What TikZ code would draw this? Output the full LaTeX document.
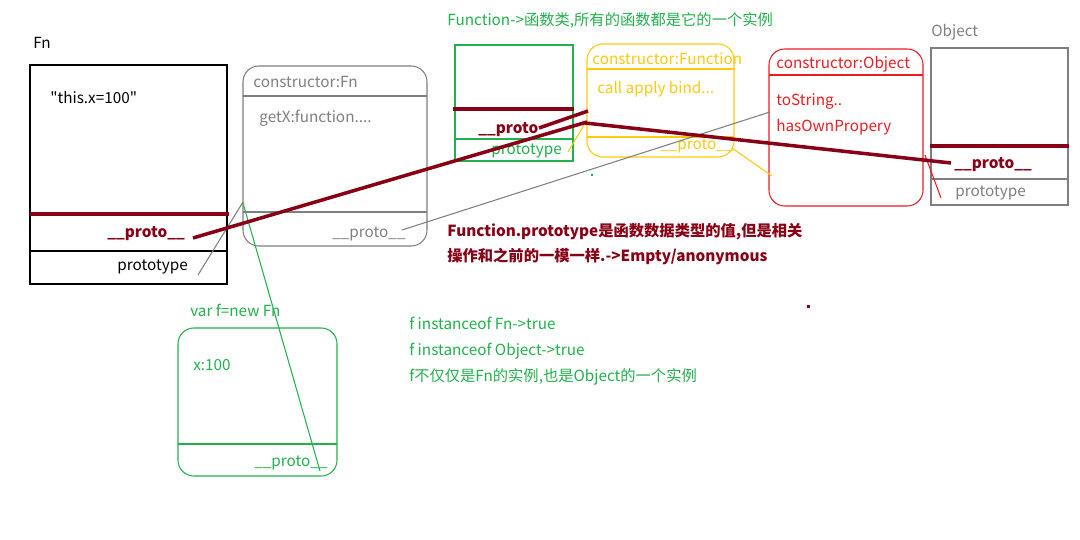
\documentclass[tikz,border=0pt]{standalone}
\usepackage{fontspec}
\setmainfont{Noto Sans CJK SC}[Ligatures=TeXOff]
\definecolor{dred}{RGB}{136,0,21}
\definecolor{pgreen}{RGB}{34,177,76}
\definecolor{pyellow}{RGB}{255,201,14}
\definecolor{pred}{RGB}{237,28,36}
\definecolor{pgray}{RGB}{127,127,127}
\tikzset{
  lbl/.style={inner sep=0pt, anchor=mid west, font=\fontsize{8.7}{10}\selectfont},
  blbl/.style={lbl, font=\fontsize{8.7}{10}\selectfont\bfseries},
  ln/.style={line width=0.6pt},
  thk/.style={line width=2pt, dred},
  rbox/.style={ln, rounded corners=9pt},
}
\begin{document}
\begin{tikzpicture}[x=0.02cm,y=-0.02cm]
\fill[white] (0,0) rectangle (1080,540);
\useasboundingbox (0,0) rectangle (1080,540);

% ---- Fn box
\node[lbl] (fnlabel) at (33,44) {Fn};
\draw[ln] (30,65) rectangle (227,284);
\draw[thk] (30,214) -- (229,214);
\draw[ln] (30,251) -- (227,251);
\node[lbl] (fnthis) at (50,99) {"this.x=100"};
\node[blbl, text=dred] (fnproto) at (107,233) {\_\_proto\_\_};
\node[lbl] (fnprototype) at (117,266) {prototype};

% ---- constructor:Fn
\draw[rbox, pgray] (243,66) rectangle (427,246);
\draw[ln, pgray] (243,96) -- (427,96);
\draw[ln, pgray] (243,212) -- (427,212);
\node[lbl, text=pgray] (cfnhead) at (253,83) {constructor:Fn};
\node[lbl, text=pgray] (cfngetx) at (259,118) {getX:function....};
\node[lbl, text=pgray] (cfnproto) at (332,233) {\_\_proto\_\_};

% ---- title
\node[lbl, text=pgreen] (title) at (447,21) {Function->函数类,所有的函数都是它的一个实例};

% ---- Function box
\draw[ln, pgreen] (455,45) rectangle (573,161);
\draw[thk] (453,109) -- (574,109);
\draw[ln, pgreen] (455,139) -- (573,139);
\node[blbl, text=dred] (funproto) at (478,129) {\_\_proto};
\node[lbl, text=pgreen] (funprototype) at (491,150) {prototype};

% ---- constructor:Function
\draw[rbox, pyellow] (587,44) rectangle (734,157);
\draw[ln, pyellow] (587,69) -- (734,69);
\draw[ln, pyellow] (587,137) -- (734,137);
\node[lbl, text=pyellow] (cfunhead) at (592,60) {constructor:Function};
\node[lbl, text=pyellow] (cfuncall) at (597,89) {call apply bind...};
\node[lbl, text=pyellow] (cfunproto) at (660,145) {\_\_proto\_\_};

% ---- constructor:Object
\draw[rbox, pred] (769,49) rectangle (923,206);
\draw[ln, pred] (769,75) -- (923,75);
\node[lbl, text=pred] (cobjhead) at (776,64) {constructor:Object};
\node[lbl, text=pred] (cobjtostr) at (776,101) {toString..};
\node[lbl, text=pred] (cobjhas) at (776,127) {hasOwnPropery};

% ---- Object box
\node[lbl, text=pgray] (objlabel) at (931,32) {Object};
\draw[ln, pgray] (931,48) rectangle (1068,205);
\draw[thk] (930,146) -- (1069,146);
\draw[ln, pgray] (931,179) -- (1069,179);
\node[blbl, text=dred] (objproto) at (954,164) {\_\_proto\_\_};
\node[lbl, text=pgray] (objprototype) at (955,192) {prototype};

% ---- notes
\node[blbl, text=dred] (note1) at (447,232) {Function.prototype是函数数据类型的值,但是相关};
\node[blbl, text=dred] (note2) at (447,257) {操作和之前的一模一样.->Empty/anonymous};
\fill[dred] (806.5,305.5) rectangle (809.5,308.5);
\fill[pgreen] (591,174) rectangle (593,176);

% ---- instance f
\node[lbl, text=pgreen] (flabel) at (190,312) {var f=new Fn};
\draw[rbox, pgreen] (178,328) rectangle (337,476);
\draw[ln, pgreen] (178,444) -- (337,444);
\node[lbl, text=pgreen] (fx) at (193,366) {x:100};
\node[lbl, text=pgreen] (fproto) at (254,462) {\_\_proto\_\_};

\node[lbl, text=pgreen] (inst1) at (409,325) {f instanceof Fn->true};
\node[lbl, text=pgreen] (inst2) at (409,351) {f instanceof Object->true};
\node[lbl, text=pgreen] (inst3) at (409,377) {f不仅仅是Fn的实例,也是Object的一个实例};

% ---- connector end points
\coordinate (pFnPrototype) at (198,275);
\coordinate (pCfnCorner) at (243,202);
\coordinate (pCfnCornerB) at (243,203);
\coordinate (pFproto) at (320,471);
\coordinate (pFnProto) at (193,238);
\coordinate (pCfunA) at (587,122);
\coordinate (pFunProto) at (539,128);
\coordinate (pCfunB) at (588,111);
\coordinate (pCfunC) at (585,123);
\coordinate (pObjProto) at (951,163);
\coordinate (pFunPrototype) at (568,152);
\coordinate (pCfunD) at (587,120);
\coordinate (pCfunProto) at (732,148);
\coordinate (pCobjA) at (772,176);
\coordinate (pCfnProto) at (402,230);
\coordinate (pCobjB) at (770,112);
\coordinate (pObjPrototype) at (941,198);
\coordinate (pCobjC) at (925,155);

% ---- connectors
\draw[ln, pgray] (pFnPrototype) -- (pCfnCorner);
\draw[ln, pgreen] (pCfnCornerB) -- (pFproto);
\draw[ln, pgray] (pCfnProto) -- (pCobjB);
\draw[ln, pyellow] (pFunPrototype) -- (pCfunD);
\draw[ln, pyellow] (pCfunProto) -- (pCobjA);
\draw[ln, pred] (pObjPrototype) -- (pCobjC);
\draw[thk] (pFnProto) -- (pCfunA);
\draw[thk] (pFunProto) -- (pCfunB);
\draw[thk] (pCfunC) -- (pObjProto);
\end{tikzpicture}
\end{document}
